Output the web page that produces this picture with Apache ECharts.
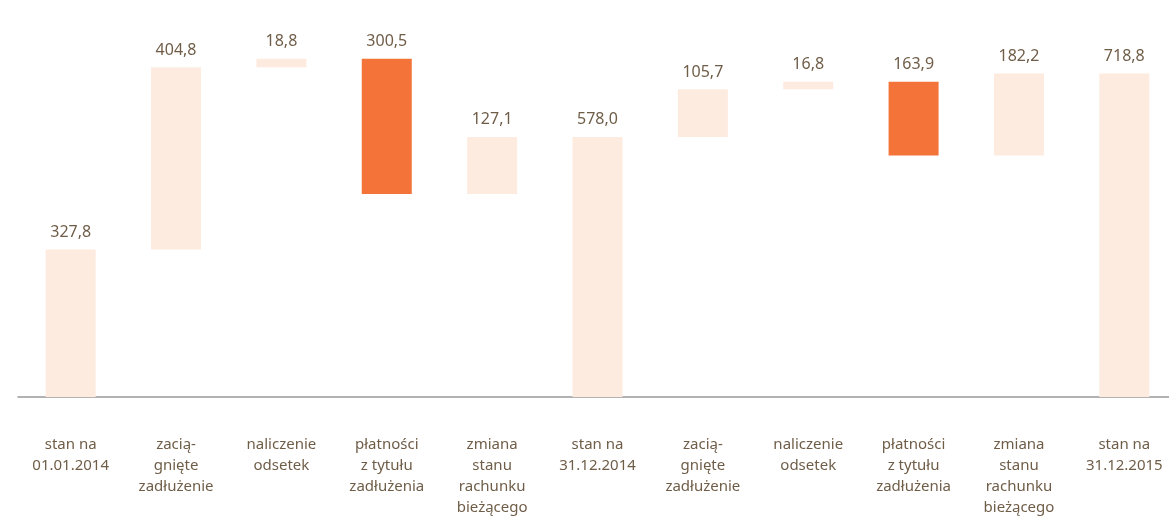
<!DOCTYPE html>
<html>
<head>
<meta charset="utf-8">
<script src="https://cdn.jsdelivr.net/npm/echarts@6/dist/echarts.min.js"></script>
<style>
	html, body { margin: 0; padding: 0; background: #fff; overflow: hidden; }
	#chart { width: 1169px; height: 519px; }
</style>
</head>
<body>
<div id="chart"></div>
<script>
var categories = [
	'stan na\n01.01.2014',
	'zacią-\ngnięte\nzadłużenie',
	'naliczenie\nodsetek',
	'płatności\nz tytułu\nzadłużenia',
	'zmiana\nstanu\nrachunku\nbieżącego',
	'stan na\n31.12.2014',
	'zacią-\ngnięte\nzadłużenie',
	'naliczenie\nodsetek',
	'płatności\nz tytułu\nzadłużenia',
	'zmiana\nstanu\nrachunku\nbieżącego',
	'stan na\n31.12.2015'
];
var values = [327.8, 404.8, 18.8, 300.5, 127.1, 578.0, 105.7, 16.8, 163.9, 182.2, 718.8];
// total = bar from zero, up = increase, down = decrease
var kinds = ['total', 'up', 'up', 'down', 'up', 'total', 'up', 'up', 'down', 'up', 'total'];

var light = '#fdebe0';
var dark = '#f37338';
var textColor = '#6f5d48';

var base = [];
var running = 0;
values.forEach(function (v, i) {
	if (kinds[i] === 'total') {
		base.push(0);
		running = v;
	} else if (kinds[i] === 'up') {
		base.push(running);
		running += v;
	} else {
		running -= v;
		base.push(running);
	}
});

var chart = echarts.init(document.getElementById('chart'));
chart.setOption({
	animation: false,
	grid: { left: 18, right: -8, top: 10, bottom: 122, outerBoundsMode: 'none', containLabel: false },
	xAxis: {
		type: 'category',
		data: categories,
		axisLine: { lineStyle: { color: '#999', width: 1.5 } },
		axisTick: { show: false },
		axisLabel: {
			interval: 0,
			margin: 37,
			color: textColor,
			fontFamily: 'Noto Sans',
			fontSize: 15,
			lineHeight: 21
		}
	},
	yAxis: {
		type: 'value',
		min: 0,
		max: 860,
		show: false,
		splitLine: { show: false }
	},
	series: [
		{
			type: 'bar',
			stack: 'w',
			barWidth: 50,
			silent: true,
			itemStyle: { color: 'transparent' },
			data: base
		},
		{
			type: 'bar',
			stack: 'w',
			barWidth: 50,
			data: values.map(function (v, i) {
				return { value: v, itemStyle: { color: kinds[i] === 'down' ? dark : light } };
			}),
			label: {
				show: true,
				position: 'top',
				distance: 9,
				color: textColor,
				fontFamily: 'Noto Sans',
				fontSize: 16,
				formatter: function (p) {
					return p.value.toFixed(1).replace('.', ',');
				}
			}
		}
	]
});
</script>
</body>
</html>
